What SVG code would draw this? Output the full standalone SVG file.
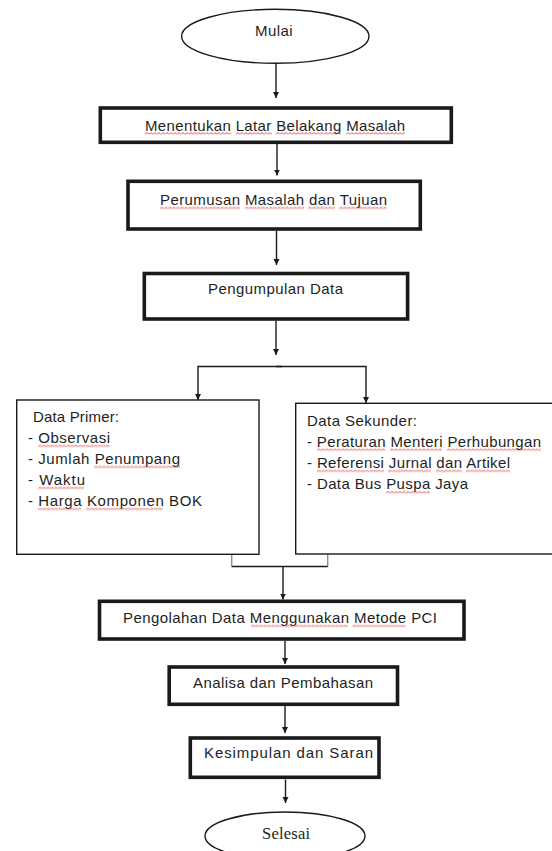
<svg xmlns="http://www.w3.org/2000/svg" width="552" height="851" viewBox="0 0 552 851">
<style>
.t{font-family:"Liberation Sans",Arial,sans-serif;font-size:15px;fill:#1e1e1e}
.ts{font-family:"Liberation Serif","Times New Roman",serif;font-size:16.5px;fill:#1e1e1e}
.thick{fill:#fff;stroke:#1a1a1a;stroke-width:3.6}
.thin{fill:#fff;stroke:#1a1a1a;stroke-width:1.4}
.ell{fill:#fff;stroke:#1a1a1a;stroke-width:1.4}
.c{fill:none;stroke:#1a1a1a;stroke-width:1.4}
.cb{fill:none;stroke:#5b9bd5;stroke-width:1.4}
.sq{fill:url(#sq)}
</style>
<defs>
<marker id="ah" markerUnits="userSpaceOnUse" markerWidth="7" markerHeight="7" refX="6" refY="3" orient="auto">
<path d="M0,0 L6,3 L0,6 z" fill="#1a1a1a"/>
</marker>
<pattern id="sq" patternUnits="userSpaceOnUse" width="4" height="3">
<polyline points="0,2.5 2,0.5 4,2.5" fill="none" stroke="#e03030" stroke-width="0.9"/>
</pattern>
</defs>
<rect width="552" height="851" fill="#fff"/>

<g id="connectors">
<path class="c" d="M276,63.5 V98" marker-end="url(#ah)"/>
<path class="c" d="M277,144 V175.5" marker-end="url(#ah)"/>
<path class="c" d="M276.5,231 V265" marker-end="url(#ah)"/>
<path class="c" d="M276,320.7 V355" marker-end="url(#ah)"/>
<path class="c" d="M282,366.5 H198 V400" marker-end="url(#ah)"/>
<path class="c" d="M276,366.5 H366 V403" marker-end="url(#ah)"/>
<path class="cb" d="M231.7,554.5 V566.5"/>
<path class="cb" d="M327.7,554.5 V566.5"/>
<path class="c" d="M231.7,566.5 H327.7"/>
<path class="c" d="M283,566.5 V599.5" marker-end="url(#ah)"/>
<path class="c" d="M285,641 V664" marker-end="url(#ah)"/>
<path class="c" d="M285,706 V733" marker-end="url(#ah)"/>
<path class="c" d="M285.5,779.5 V803" marker-end="url(#ah)"/>
</g>

<g id="mulai">
<ellipse class="ell" cx="275.3" cy="36.3" rx="93.7" ry="27"/>
<text class="t" x="255" y="36" textLength="37.7" lengthAdjust="spacing">Mulai</text>
</g>

<g id="latar">
<rect class="thick" x="100.3" y="108" width="351" height="34.3"/>
<text class="t" x="145" y="130.5" textLength="260" lengthAdjust="spacing">Menentukan Latar Belakang Masalah</text>
<rect class="sq" transform="translate(145,132)" width="86" height="3"/>
<rect class="sq" transform="translate(236,132)" width="36" height="3"/>
<rect class="sq" transform="translate(276,132)" width="65" height="3"/>
<rect class="sq" transform="translate(346,132)" width="59" height="3"/>
</g>

<g id="perumusan">
<rect class="thick" x="128" y="181.3" width="292.3" height="47.7"/>
<text class="t" x="160" y="205" textLength="227" lengthAdjust="spacing">Perumusan Masalah dan Tujuan</text>
<rect class="sq" transform="translate(160,206.5)" width="80" height="3"/>
<rect class="sq" transform="translate(245,206.5)" width="59" height="3"/>
<rect class="sq" transform="translate(308,206.5)" width="27" height="3"/>
<rect class="sq" transform="translate(339,206.5)" width="48" height="3"/>
</g>

<g id="pengumpulan">
<rect class="thick" x="144.3" y="273.5" width="263.3" height="45.5"/>
<text class="t" x="208" y="294" textLength="135" lengthAdjust="spacing">Pengumpulan Data</text>
</g>

<g id="primer">
<rect class="thin" x="16.7" y="400" width="242.3" height="154.3"/>
<text class="t" x="33" y="422" textLength="86" lengthAdjust="spacing">Data Primer:</text>
<text class="t" x="28" y="443" textLength="82" lengthAdjust="spacing">- Observasi</text>
<text class="t" x="28" y="464" textLength="152" lengthAdjust="spacing">- Jumlah Penumpang</text>
<text class="t" x="28" y="485" textLength="57" lengthAdjust="spacing">- Waktu</text>
<text class="t" x="28" y="506" textLength="174" lengthAdjust="spacing">- Harga Komponen BOK</text>
<rect class="sq" transform="translate(38,444.5)" width="72" height="3"/>
<rect class="sq" transform="translate(94,465.5)" width="86" height="3"/>
<rect class="sq" transform="translate(38,486.5)" width="46" height="3"/>
<rect class="sq" transform="translate(38,507.5)" width="43" height="3"/>
<rect class="sq" transform="translate(86,507.5)" width="77" height="3"/>
</g>

<g id="sekunder">
<rect class="thin" x="295.7" y="403.3" width="270" height="150.7"/>
<text class="t" x="307" y="425.5" textLength="110" lengthAdjust="spacing">Data Sekunder:</text>
<text class="t" x="307" y="446.8" textLength="234" lengthAdjust="spacing">- Peraturan Menteri Perhubungan</text>
<text class="t" x="307" y="468" textLength="203" lengthAdjust="spacing">- Referensi Jurnal dan Artikel</text>
<text class="t" x="307" y="489.3" textLength="161" lengthAdjust="spacing">- Data Bus Puspa Jaya</text>
<rect class="sq" transform="translate(317,448.3)" width="68" height="3"/>
<rect class="sq" transform="translate(390,448.3)" width="52" height="3"/>
<rect class="sq" transform="translate(447,448.3)" width="94" height="3"/>
<rect class="sq" transform="translate(317,469.5)" width="67" height="3"/>
<rect class="sq" transform="translate(388,469.5)" width="43" height="3"/>
<rect class="sq" transform="translate(436,469.5)" width="26" height="3"/>
<rect class="sq" transform="translate(466,469.5)" width="44" height="3"/>
<rect class="sq" transform="translate(386,490.8)" width="44" height="3"/>
</g>

<g id="pengolahan">
<rect class="thick" x="99.5" y="601.3" width="364.5" height="37.7"/>
<text class="t" x="123" y="623" textLength="314" lengthAdjust="spacing">Pengolahan Data Menggunakan Metode PCI</text>
<rect class="sq" transform="translate(251,624.5)" width="97" height="3"/>
<rect class="sq" transform="translate(352.5,624.5)" width="53" height="3"/>
</g>

<g id="analisa">
<rect class="thick" x="169.2" y="667" width="228.3" height="37.3"/>
<text class="t" x="193" y="687.5" textLength="180" lengthAdjust="spacing">Analisa dan Pembahasan</text>
</g>

<g id="kesimpulan">
<rect class="thick" x="190.3" y="738" width="188.7" height="39.3"/>
<text class="t" x="204" y="757.5" textLength="169" lengthAdjust="spacing">Kesimpulan dan Saran</text>
</g>

<g id="selesai">
<ellipse class="ell" cx="285" cy="836" rx="80" ry="24"/>
<text class="ts" x="262" y="839" textLength="48" lengthAdjust="spacing">Selesai</text>
</g>
</svg>
